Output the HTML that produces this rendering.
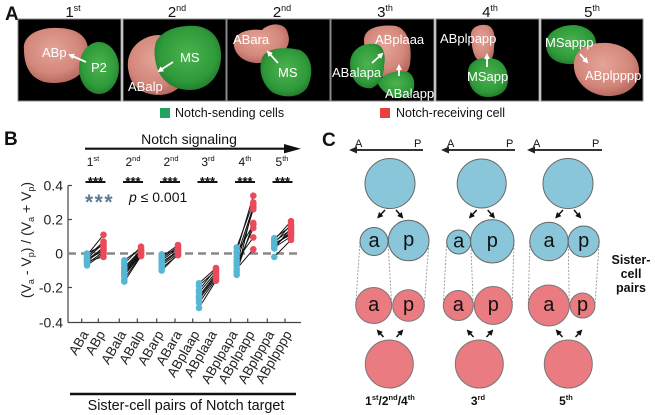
<!DOCTYPE html>
<html><head><meta charset="utf-8"><style>
html,body{margin:0;padding:0;background:#fff;}
svg{display:block;font-family:"Liberation Sans",Arial,sans-serif;}
</style></head><body>
<svg width="655" height="415" viewBox="0 0 655 415" xmlns="http://www.w3.org/2000/svg">
<defs>
<radialGradient id="gr" cx="45%" cy="40%" r="60%"><stop offset="0" stop-color="#e4a497"/><stop offset="0.7" stop-color="#d3877b"/><stop offset="1" stop-color="#b86a60"/></radialGradient>
<radialGradient id="gg" cx="50%" cy="45%" r="60%"><stop offset="0" stop-color="#4cb34f"/><stop offset="0.7" stop-color="#2f9a3a"/><stop offset="1" stop-color="#1d752a"/></radialGradient>
<marker id="wa" markerWidth="6" markerHeight="6" refX="4" refY="3" orient="auto" markerUnits="userSpaceOnUse"><path d="M0,0 L6,3 L0,6 z" fill="#fff"/></marker>
<marker id="ka" markerWidth="6" markerHeight="6" refX="4" refY="3" orient="auto" markerUnits="userSpaceOnUse"><path d="M0,0 L6,3 L0,6 z" fill="#111"/></marker>
<clipPath id="c1"><rect x="18" y="19" width="103" height="82"/></clipPath>
<clipPath id="c2"><rect x="123" y="19" width="103" height="82"/></clipPath>
<clipPath id="c3"><rect x="227" y="19" width="103" height="82"/></clipPath>
<clipPath id="c4"><rect x="331" y="19" width="103" height="82"/></clipPath>
<clipPath id="c5"><rect x="436" y="19" width="103" height="82"/></clipPath>
<clipPath id="c6"><rect x="541" y="19" width="102" height="82"/></clipPath>
</defs>

<!-- ================= PANEL A ================= -->
<text x="5" y="20" font-size="19" font-weight="bold" fill="#111">A</text>
<g font-size="15" fill="#111" text-anchor="middle">
<text x="73" y="17">1<tspan font-size="9" dy="-6">st</tspan></text>
<text x="177" y="17">2<tspan font-size="9" dy="-6">nd</tspan></text>
<text x="282" y="17">2<tspan font-size="9" dy="-6">nd</tspan></text>
<text x="385" y="17">3<tspan font-size="9" dy="-6">th</tspan></text>
<text x="490" y="17">4<tspan font-size="9" dy="-6">th</tspan></text>
<text x="592" y="17">5<tspan font-size="9" dy="-6">th</tspan></text>
</g>
<g stroke="#8a8a8a" stroke-width="1" fill="#000">
<rect x="18" y="19" width="103" height="82"/>
<rect x="123" y="19" width="103" height="82"/>
<rect x="227" y="19" width="103" height="82"/>
<rect x="331" y="19" width="103" height="82"/>
<rect x="436" y="19" width="103" height="82"/>
<rect x="541" y="19" width="102" height="82"/>
</g>
<g clip-path="url(#c1)">
<path d="M24,50 C22,36 38,27 58,28 C76,28 88,36 88,50 C90,66 80,82 56,83 C36,84 24,72 24,50 Z" fill="url(#gr)"/>
<ellipse cx="99" cy="68" rx="20" ry="26" fill="url(#gg)"/>
</g>
<g clip-path="url(#c2)">
<path d="M128,68 C126,50 140,36 158,35 C176,36 188,52 188,68 C186,84 176,95 158,95 C138,94 130,84 128,68 Z" fill="url(#gr)"/>
<path d="M156,42 C162,30 178,25 196,26 C214,28 222,42 221,58 C220,76 208,90 190,90 C172,90 160,80 156,64 C154,56 154,48 156,42 Z" fill="url(#gg)"/>
</g>
<g clip-path="url(#c3)">
<path d="M234,46 C232,34 246,28 262,30 C270,22 286,22 288,34 C292,46 282,58 266,62 C250,66 236,58 234,46 Z" fill="url(#gr)"/>
<path d="M262,58 C266,48 284,46 300,50 C312,56 314,72 308,86 C302,98 284,99 272,92 C262,84 258,70 262,58 Z" fill="url(#gg)"/>
</g>
<g clip-path="url(#c4)">
<path d="M364,40 C364,28 380,24 396,26 C410,30 412,50 410,64 C408,76 398,80 386,78 C372,74 364,56 364,40 Z" fill="url(#gr)"/>
<path d="M350,64 C350,50 362,42 376,44 C384,46 386,56 384,66 C384,76 380,84 372,88 C360,90 350,80 350,64 Z" fill="url(#gg)"/>
<path d="M378,84 C382,72 398,70 408,72 C416,76 416,90 410,96 C400,100 386,98 378,84 Z" fill="url(#gg)"/>
</g>
<g clip-path="url(#c5)">
<path d="M471,36 C470,28 478,24 486,25 C494,26 496,36 494,48 C494,56 492,62 484,62 C474,62 472,50 471,36 Z" fill="url(#gr)"/>
<path d="M468,72 C468,62 478,57 490,58 C502,59 508,68 508,80 C508,92 498,97 488,97 C476,97 468,88 468,72 Z" fill="url(#gg)"/>
</g>
<g clip-path="url(#c6)">
<path d="M546,44 C546,32 560,25 574,25 C588,26 597,34 596,46 C594,58 582,65 568,64 C554,63 546,56 546,44 Z" fill="url(#gg)"/>
<path d="M574,62 C576,48 590,42 608,43 C628,45 640,58 639,72 C638,88 624,97 606,96 C588,95 572,80 574,62 Z" fill="url(#gr)"/>
</g>
<g fill="#fff" font-size="13">
<text x="42" y="57">ABp</text><text x="91" y="72">P2</text>
<text x="180" y="62">MS</text><text x="128" y="91">ABalp</text>
<text x="233" y="44">ABara</text><text x="278" y="77">MS</text>
<text x="375" y="44">ABplaaa</text><text x="332" y="77">ABalapa</text><text x="385" y="98">ABalapp</text>
<text x="440" y="43">ABplpapp</text><text x="467" y="81">MSapp</text>
<text x="545" y="47">MSappp</text><text x="585" y="80">ABplpppp</text>
</g>
<g stroke="#fff" stroke-width="1.8" marker-end="url(#wa)">
<line x1="86" y1="62" x2="70" y2="55"/>
<line x1="173" y1="62" x2="159" y2="71"/>
<line x1="278" y1="63" x2="268" y2="52"/>
<line x1="372" y1="63" x2="382" y2="54"/>
<line x1="399" y1="76" x2="399" y2="66"/>
<line x1="487" y1="67" x2="487" y2="55"/>
<line x1="580" y1="54" x2="587" y2="62"/>
</g>
<rect x="160" y="108" width="10" height="10" fill="#22a45e"/>
<text x="175" y="117" font-size="12.5" fill="#111">Notch-sending cells</text>
<rect x="380" y="108" width="10" height="10" fill="#e8423e"/>
<text x="396" y="117" font-size="12.5" fill="#111">Notch-receiving cell</text>

<!-- ================= PANEL B ================= -->
<text x="4" y="145" font-size="19" font-weight="bold" fill="#111">B</text>
<text x="189" y="144" font-size="14" text-anchor="middle" fill="#111">Notch signaling</text>
<line x1="85" y1="148.7" x2="288" y2="148.7" stroke="#111" stroke-width="2.2"/>
<polygon points="284,144 301,148.7 284,153.4" fill="#111"/>
<g font-size="12" fill="#111" text-anchor="middle">
<text x="93" y="166">1<tspan font-size="7.5" dy="-5">st</tspan></text>
<text x="133" y="166">2<tspan font-size="7.5" dy="-5">nd</tspan></text>
<text x="171" y="166">2<tspan font-size="7.5" dy="-5">nd</tspan></text>
<text x="208" y="166">3<tspan font-size="7.5" dy="-5">rd</tspan></text>
<text x="245" y="166">4<tspan font-size="7.5" dy="-5">th</tspan></text>
<text x="282" y="166">5<tspan font-size="7.5" dy="-5">th</tspan></text>
</g>
<g font-size="13" font-weight="bold" fill="#111" text-anchor="middle">
<text x="95.5" y="186">***</text>
<text x="133" y="186">***</text>
<text x="170" y="186">***</text>
<text x="207.5" y="186">***</text>
<text x="245" y="186">***</text>
<text x="282.5" y="186">***</text>
</g>
<g stroke="#111" stroke-width="2">
<line x1="85.5" y1="182" x2="105.5" y2="182"/>
<line x1="123" y1="182" x2="143" y2="182"/>
<line x1="160" y1="182" x2="180" y2="182"/>
<line x1="197.5" y1="182" x2="217.5" y2="182"/>
<line x1="235" y1="182" x2="255" y2="182"/>
<line x1="272.5" y1="182" x2="292.5" y2="182"/>
</g>
<text x="85" y="209" font-size="21" font-weight="bold" fill="#5f7a94" letter-spacing="1.5">***</text>
<text x="129" y="202" font-size="14" fill="#111"><tspan font-style="italic">p</tspan> ≤ 0.001</text>

<g stroke="#444" stroke-width="1.2" fill="none">
<line x1="68" y1="185.5" x2="68" y2="322.5"/>
<line x1="68" y1="322.5" x2="301" y2="322.5"/>
<line x1="68" y1="185.5" x2="72" y2="185.5"/>
<line x1="68" y1="219.5" x2="72" y2="219.5"/>
<line x1="68" y1="253.5" x2="72" y2="253.5"/>
<line x1="68" y1="287.5" x2="72" y2="287.5"/>
<line x1="81.7" y1="322.5" x2="81.7" y2="318.5"/>
<line x1="98.3" y1="322.5" x2="98.3" y2="318.5"/>
<line x1="119.3" y1="322.5" x2="119.3" y2="318.5"/>
<line x1="137.3" y1="322.5" x2="137.3" y2="318.5"/>
<line x1="156.7" y1="322.5" x2="156.7" y2="318.5"/>
<line x1="175" y1="322.5" x2="175" y2="318.5"/>
<line x1="192.7" y1="322.5" x2="192.7" y2="318.5"/>
<line x1="210" y1="322.5" x2="210" y2="318.5"/>
<line x1="230.7" y1="322.5" x2="230.7" y2="318.5"/>
<line x1="247.7" y1="322.5" x2="247.7" y2="318.5"/>
<line x1="267.3" y1="322.5" x2="267.3" y2="318.5"/>
<line x1="285" y1="322.5" x2="285" y2="318.5"/>
</g>
<g font-size="14" fill="#222" text-anchor="end">
<text x="63" y="190.5">0.4</text>
<text x="63" y="224.5">0.2</text>
<text x="63" y="258.5">0</text>
<text x="63" y="292.5">-0.2</text>
<text x="63" y="327.5">-0.4</text>
</g>
<text transform="translate(31,240) rotate(-90)" font-size="14" fill="#222" text-anchor="middle">(V<tspan font-size="9" dy="3">a</tspan><tspan dy="-3"> - V</tspan><tspan font-size="9" dy="3">p</tspan><tspan dy="-3">) / (V</tspan><tspan font-size="9" dy="3">a</tspan><tspan dy="-3"> + V</tspan><tspan font-size="9" dy="3">p</tspan><tspan dy="-3">)</tspan></text>

<line x1="68" y1="253.5" x2="301" y2="253.5" stroke="#888" stroke-width="2.4" stroke-dasharray="8,5"/>

<g stroke="#111" stroke-width="1">
<line x1="87" y1="253.5" x2="103.5" y2="245.0"/><line x1="87" y1="255.2" x2="103.5" y2="234.8"/><line x1="87" y1="256.9" x2="103.5" y2="241.6"/><line x1="87" y1="258.6" x2="103.5" y2="243.3"/><line x1="87" y1="259.5" x2="103.5" y2="248.4"/><line x1="87" y1="260.3" x2="103.5" y2="250.1"/><line x1="87" y1="262.0" x2="103.5" y2="246.7"/><line x1="87" y1="263.7" x2="103.5" y2="251.8"/><line x1="87" y1="265.4" x2="103.5" y2="253.5"/><line x1="87" y1="261.2" x2="103.5" y2="256.9"/>
<line x1="124.3" y1="260.3" x2="141" y2="248.4"/><line x1="124.3" y1="263.7" x2="141" y2="246.7"/><line x1="124.3" y1="267.1" x2="141" y2="250.1"/><line x1="124.3" y1="268.8" x2="141" y2="251.0"/><line x1="124.3" y1="270.5" x2="141" y2="251.8"/><line x1="124.3" y1="272.2" x2="141" y2="252.7"/><line x1="124.3" y1="273.9" x2="141" y2="253.5"/><line x1="124.3" y1="275.6" x2="141" y2="254.4"/><line x1="124.3" y1="279.0" x2="141" y2="255.2"/><line x1="124.3" y1="281.6" x2="141" y2="256.1"/>
<line x1="161.7" y1="254.4" x2="178" y2="250.1"/><line x1="161.7" y1="256.9" x2="178" y2="245.0"/><line x1="161.7" y1="258.6" x2="178" y2="246.7"/><line x1="161.7" y1="260.3" x2="178" y2="248.4"/><line x1="161.7" y1="262.0" x2="178" y2="251.0"/><line x1="161.7" y1="263.7" x2="178" y2="251.8"/><line x1="161.7" y1="265.4" x2="178" y2="253.5"/><line x1="161.7" y1="268.0" x2="178" y2="255.2"/><line x1="161.7" y1="270.5" x2="178" y2="254.4"/>
<line x1="199" y1="283.3" x2="216" y2="268.0"/><line x1="199" y1="285.8" x2="216" y2="270.5"/><line x1="199" y1="290.1" x2="216" y2="268.8"/><line x1="199" y1="292.6" x2="216" y2="272.2"/><line x1="199" y1="296.0" x2="216" y2="273.9"/><line x1="199" y1="297.7" x2="216" y2="275.6"/><line x1="199" y1="299.4" x2="216" y2="277.3"/><line x1="199" y1="302.8" x2="216" y2="279.0"/><line x1="199" y1="307.9" x2="216" y2="280.7"/>
<line x1="236.7" y1="247.5" x2="253.3" y2="202.5"/><line x1="236.7" y1="251.8" x2="253.3" y2="195.7"/><line x1="236.7" y1="253.5" x2="253.3" y2="224.6"/><line x1="236.7" y1="256.9" x2="253.3" y2="206.8"/><line x1="236.7" y1="260.3" x2="253.3" y2="237.4"/><line x1="236.7" y1="262.9" x2="253.3" y2="209.3"/><line x1="236.7" y1="265.4" x2="253.3" y2="228.0"/><line x1="236.7" y1="268.8" x2="253.3" y2="249.3"/><line x1="236.7" y1="271.7" x2="253.3" y2="222.9"/><line x1="236.7" y1="274.8" x2="253.3" y2="204.2"/>
<line x1="274.3" y1="238.2" x2="291" y2="226.3"/><line x1="274.3" y1="239.9" x2="291" y2="221.2"/><line x1="274.3" y1="241.6" x2="291" y2="229.7"/><line x1="274.3" y1="243.3" x2="291" y2="224.6"/><line x1="274.3" y1="245.0" x2="291" y2="233.1"/><line x1="274.3" y1="246.7" x2="291" y2="231.4"/><line x1="274.3" y1="247.5" x2="291" y2="236.5"/><line x1="274.3" y1="248.4" x2="291" y2="228.0"/><line x1="274.3" y1="256.9" x2="291" y2="239.9"/><line x1="274.3" y1="243.3" x2="291" y2="234.8"/>
</g>
<g fill="#58b6d5">
<circle cx="87" cy="253.5" r="3.3"/><circle cx="87" cy="255.2" r="3.3"/><circle cx="87" cy="256.9" r="3.3"/><circle cx="87" cy="258.6" r="3.3"/><circle cx="87" cy="259.5" r="3.3"/><circle cx="87" cy="260.3" r="3.3"/><circle cx="87" cy="262.0" r="3.3"/><circle cx="87" cy="263.7" r="3.3"/><circle cx="87" cy="265.4" r="3.3"/><circle cx="87" cy="261.2" r="3.3"/>
<circle cx="124.3" cy="260.3" r="3.3"/><circle cx="124.3" cy="263.7" r="3.3"/><circle cx="124.3" cy="267.1" r="3.3"/><circle cx="124.3" cy="268.8" r="3.3"/><circle cx="124.3" cy="270.5" r="3.3"/><circle cx="124.3" cy="272.2" r="3.3"/><circle cx="124.3" cy="273.9" r="3.3"/><circle cx="124.3" cy="275.6" r="3.3"/><circle cx="124.3" cy="279.0" r="3.3"/><circle cx="124.3" cy="281.6" r="3.3"/>
<circle cx="161.7" cy="254.4" r="3.3"/><circle cx="161.7" cy="256.9" r="3.3"/><circle cx="161.7" cy="258.6" r="3.3"/><circle cx="161.7" cy="260.3" r="3.3"/><circle cx="161.7" cy="262.0" r="3.3"/><circle cx="161.7" cy="263.7" r="3.3"/><circle cx="161.7" cy="265.4" r="3.3"/><circle cx="161.7" cy="268.0" r="3.3"/><circle cx="161.7" cy="270.5" r="3.3"/>
<circle cx="199" cy="283.3" r="3.3"/><circle cx="199" cy="285.8" r="3.3"/><circle cx="199" cy="290.1" r="3.3"/><circle cx="199" cy="292.6" r="3.3"/><circle cx="199" cy="296.0" r="3.3"/><circle cx="199" cy="297.7" r="3.3"/><circle cx="199" cy="299.4" r="3.3"/><circle cx="199" cy="302.8" r="3.3"/><circle cx="199" cy="307.9" r="3.3"/>
<circle cx="236.7" cy="247.5" r="3.3"/><circle cx="236.7" cy="251.8" r="3.3"/><circle cx="236.7" cy="253.5" r="3.3"/><circle cx="236.7" cy="256.9" r="3.3"/><circle cx="236.7" cy="260.3" r="3.3"/><circle cx="236.7" cy="262.9" r="3.3"/><circle cx="236.7" cy="265.4" r="3.3"/><circle cx="236.7" cy="268.8" r="3.3"/><circle cx="236.7" cy="271.7" r="3.3"/><circle cx="236.7" cy="274.8" r="3.3"/>
<circle cx="274.3" cy="238.2" r="3.3"/><circle cx="274.3" cy="239.9" r="3.3"/><circle cx="274.3" cy="241.6" r="3.3"/><circle cx="274.3" cy="243.3" r="3.3"/><circle cx="274.3" cy="245.0" r="3.3"/><circle cx="274.3" cy="246.7" r="3.3"/><circle cx="274.3" cy="247.5" r="3.3"/><circle cx="274.3" cy="248.4" r="3.3"/><circle cx="274.3" cy="256.9" r="3.3"/>
</g>
<g fill="#e94b5b">
<circle cx="103.5" cy="245.0" r="3.3"/><circle cx="103.5" cy="234.8" r="3.3"/><circle cx="103.5" cy="241.6" r="3.3"/><circle cx="103.5" cy="243.3" r="3.3"/><circle cx="103.5" cy="248.4" r="3.3"/><circle cx="103.5" cy="250.1" r="3.3"/><circle cx="103.5" cy="246.7" r="3.3"/><circle cx="103.5" cy="251.8" r="3.3"/><circle cx="103.5" cy="253.5" r="3.3"/><circle cx="103.5" cy="256.9" r="3.3"/>
<circle cx="141" cy="248.4" r="3.3"/><circle cx="141" cy="246.7" r="3.3"/><circle cx="141" cy="250.1" r="3.3"/><circle cx="141" cy="251.0" r="3.3"/><circle cx="141" cy="251.8" r="3.3"/><circle cx="141" cy="252.7" r="3.3"/><circle cx="141" cy="253.5" r="3.3"/><circle cx="141" cy="254.4" r="3.3"/><circle cx="141" cy="255.2" r="3.3"/><circle cx="141" cy="256.1" r="3.3"/>
<circle cx="178" cy="250.1" r="3.3"/><circle cx="178" cy="245.0" r="3.3"/><circle cx="178" cy="246.7" r="3.3"/><circle cx="178" cy="248.4" r="3.3"/><circle cx="178" cy="251.0" r="3.3"/><circle cx="178" cy="251.8" r="3.3"/><circle cx="178" cy="253.5" r="3.3"/><circle cx="178" cy="255.2" r="3.3"/><circle cx="178" cy="254.4" r="3.3"/>
<circle cx="216" cy="268.0" r="3.3"/><circle cx="216" cy="270.5" r="3.3"/><circle cx="216" cy="268.8" r="3.3"/><circle cx="216" cy="272.2" r="3.3"/><circle cx="216" cy="273.9" r="3.3"/><circle cx="216" cy="275.6" r="3.3"/><circle cx="216" cy="277.3" r="3.3"/><circle cx="216" cy="279.0" r="3.3"/><circle cx="216" cy="280.7" r="3.3"/>
<circle cx="253.3" cy="202.5" r="3.3"/><circle cx="253.3" cy="195.7" r="3.3"/><circle cx="253.3" cy="224.6" r="3.3"/><circle cx="253.3" cy="206.8" r="3.3"/><circle cx="253.3" cy="237.4" r="3.3"/><circle cx="253.3" cy="209.3" r="3.3"/><circle cx="253.3" cy="228.0" r="3.3"/><circle cx="253.3" cy="249.3" r="3.3"/><circle cx="253.3" cy="222.9" r="3.3"/><circle cx="253.3" cy="204.2" r="3.3"/>
<circle cx="291" cy="226.3" r="3.3"/><circle cx="291" cy="221.2" r="3.3"/><circle cx="291" cy="229.7" r="3.3"/><circle cx="291" cy="224.6" r="3.3"/><circle cx="291" cy="233.1" r="3.3"/><circle cx="291" cy="231.4" r="3.3"/><circle cx="291" cy="236.5" r="3.3"/><circle cx="291" cy="228.0" r="3.3"/><circle cx="291" cy="239.9" r="3.3"/><circle cx="291" cy="234.8" r="3.3"/>
</g>

<g font-size="13.5" fill="#222" text-anchor="end">
<text transform="translate(89,334) rotate(-60)">ABa</text>
<text transform="translate(105.6,334) rotate(-60)">ABp</text>
<text transform="translate(126.6,334) rotate(-60)">ABala</text>
<text transform="translate(144.6,334) rotate(-60)">ABalp</text>
<text transform="translate(164,334) rotate(-60)">ABarp</text>
<text transform="translate(182.3,334) rotate(-60)">ABara</text>
<text transform="translate(200,334) rotate(-60)">ABplaap</text>
<text transform="translate(217.3,334) rotate(-60)">ABplaaa</text>
<text transform="translate(238,334) rotate(-60)">ABplpapa</text>
<text transform="translate(255,334) rotate(-60)">ABplpapp</text>
<text transform="translate(274.6,334) rotate(-60)">ABplpppa</text>
<text transform="translate(292.3,334) rotate(-60)">ABplpppp</text>
</g>
<line x1="70" y1="394" x2="296" y2="394" stroke="#111" stroke-width="2.6"/>
<text x="186" y="410" font-size="14.4" text-anchor="middle" fill="#111">Sister-cell pairs of Notch target</text>

<!-- ================= PANEL C ================= -->
<text x="322" y="146" font-size="19" font-weight="bold" fill="#111">C</text>
<g font-size="11" fill="#111">
<text x="355" y="147">A</text><text x="414" y="147">P</text>
<text x="447" y="147">A</text><text x="506" y="147">P</text>
<text x="533" y="147">A</text><text x="592" y="147">P</text>
</g>
<g stroke="#333" stroke-width="2">
<line x1="423" y1="150" x2="356" y2="150"/>
<line x1="515" y1="150" x2="448" y2="150"/>
<line x1="602" y1="150" x2="534" y2="150"/>
</g>
<g fill="#222">
<polygon points="349,150 357,146.5 357,153.5"/>
<polygon points="441,150 449,146.5 449,153.5"/>
<polygon points="527,150 535,146.5 535,153.5"/>
</g>
<g stroke="#999" stroke-width="0.9" stroke-dasharray="2,1.5" fill="none">
<line x1="360" y1="242" x2="355.7" y2="305"/><line x1="388" y1="242" x2="391.7" y2="305"/><line x1="429" y1="241" x2="424.3" y2="305"/>
<line x1="446.7" y1="242" x2="443.3" y2="305"/><line x1="470.7" y1="242" x2="473.3" y2="305"/><line x1="514" y1="241" x2="512.3" y2="305"/>
<line x1="529.8" y1="242" x2="528.3" y2="305"/><line x1="568.2" y1="242" x2="569.3" y2="305"/><line x1="599.2" y1="242" x2="595" y2="305"/>
</g>
<g fill="#8ac6d9" stroke="#666" stroke-width="1">
<circle cx="390" cy="183.5" r="25"/>
<circle cx="481.7" cy="183.5" r="24.5"/>
<circle cx="568" cy="183.5" r="25"/>
<circle cx="374" cy="241.5" r="14"/><circle cx="408.7" cy="240.5" r="20.3"/>
<circle cx="458.7" cy="242" r="12"/><circle cx="492.3" cy="241.3" r="21.7"/>
<circle cx="549" cy="241.5" r="19.2"/><circle cx="583.7" cy="241.5" r="15.5"/>
</g>
<g fill="#e97b81" stroke="#777" stroke-width="1">
<circle cx="373.7" cy="305.5" r="18"/><circle cx="408.5" cy="305.5" r="15.8"/>
<circle cx="458.3" cy="305.5" r="15"/><circle cx="493.3" cy="305.5" r="19"/>
<circle cx="548.8" cy="305.5" r="20.5"/><circle cx="582.5" cy="305.5" r="12.5"/>
<circle cx="389.3" cy="364" r="24"/>
<circle cx="479.3" cy="364" r="24"/>
<circle cx="568.3" cy="364" r="24"/>
</g>
<g font-size="20" fill="#111" text-anchor="middle">
<text x="374" y="247">a</text><text x="408.7" y="246">p</text>
<text x="458.7" y="247.5">a</text><text x="492.3" y="247">p</text>
<text x="549" y="247">a</text><text x="583.7" y="247">p</text>
<text x="373.7" y="311">a</text><text x="408.5" y="311">p</text>
<text x="458.3" y="311">a</text><text x="493.3" y="311">p</text>
<text x="548.8" y="311">a</text><text x="582.5" y="311">p</text>
</g>
<g stroke="#111" stroke-width="1.5" marker-end="url(#ka)">
<line x1="385" y1="210" x2="378.5" y2="217"/><line x1="396" y1="210" x2="402" y2="217"/>
<line x1="476.7" y1="210" x2="470.2" y2="217"/><line x1="487.7" y1="210" x2="493.7" y2="217"/>
<line x1="563" y1="210" x2="556.5" y2="217"/><line x1="574" y1="210" x2="580" y2="217"/>
<line x1="383.5" y1="337" x2="378" y2="331"/><line x1="396.5" y1="337" x2="402" y2="331"/>
<line x1="473.5" y1="337" x2="468" y2="331"/><line x1="486.5" y1="337" x2="492" y2="331"/>
<line x1="562.5" y1="337" x2="557" y2="331"/><line x1="575.5" y1="337" x2="581" y2="331"/>
</g>
<g font-size="12.5" font-weight="bold" fill="#111" text-anchor="middle">
<text x="631" y="264">Sister-</text>
<text x="631" y="278">cell</text>
<text x="631" y="292">pairs</text>
</g>
<g font-size="12" font-weight="bold" fill="#111" text-anchor="middle">
<text x="390" y="405">1<tspan font-size="7.5" dy="-5">st</tspan><tspan dy="5">/2</tspan><tspan font-size="7.5" dy="-5">nd</tspan><tspan dy="5">/4</tspan><tspan font-size="7.5" dy="-5">th</tspan></text>
<text x="478" y="405">3<tspan font-size="7.5" dy="-5">rd</tspan></text>
<text x="566" y="405">5<tspan font-size="7.5" dy="-5">th</tspan></text>
</g>
</svg>
</body></html>
